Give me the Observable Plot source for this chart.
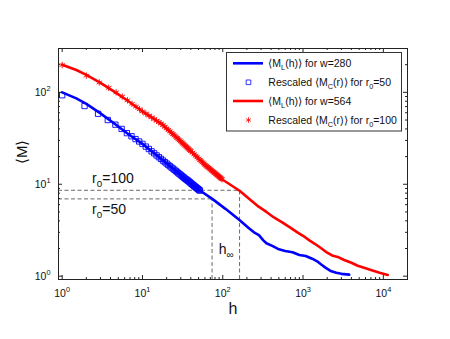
<!DOCTYPE html>
<html><head><meta charset="utf-8">
<script src="https://cdn.jsdelivr.net/npm/d3@7"></script>
<script src="https://cdn.jsdelivr.net/npm/@observablehq/plot@0.6"></script>
<style>body{margin:0;background:#fff;}</style>
</head><body><div id="chart"></div>
<script>
// ---- data ----
const blueLineH = [1,1.5,2,3,4.5,6.7,10,14,17.5,25,35,48,52,74,108,160,210,245,282,320,350,420,500,600,740,900,1080,1300,1500,1700,1900,2200,2600,3000,3760];
const blueLineM = [100,86,75,59,45.5,35,27.5,21.7,18.6,14.35,11.3,9.0,8.55,6.93,5.4,4.1,3.35,3.0,2.8,2.45,2.28,2.12,1.96,1.88,1.82,1.7,1.66,1.55,1.45,1.33,1.24,1.14,1.09,1.06,1.04];
const redLineH = [1,1.5,2,3,4.5,6.7,10,17.5,25,40,60,100,162,220,280,350,434,550,702,850,1000,1200,1400,1700,2000,2300,2700,3250,4000,4800,5500,7000,9000,11350];
const redLineM = [200,175,155,127,101,80,62,45,34,23,16.3,11.2,8.5,6.8,5.7,5.0,4.35,3.85,3.35,3.0,2.75,2.45,2.25,2.0,1.8,1.68,1.62,1.5,1.4,1.3,1.25,1.17,1.09,1.03];
const blueSqH = [1,1.9,2.8,3.7,4.6,5.5,6.4,7.3,8.2,9.1,10,11,12,13,14,15,16,17,18,19,20,21,22,23,24,25,26,27,28,29,30,31,32,33,34,35,36,37,38,39,40,41,42,43,44,45,46,47,48,49,50,51,52];
const blueSqM = [93,71,58.5,50,44.5,40,36,33.3,31,29.2,27.5,25.7,24.2,22.8,21.7,20.6,19.7,18.9,18.1,17.4,16.8,16.2,15.7,15.2,14.8,14.35,13.95,13.6,13.2,12.9,12.6,12.3,12.0,11.8,11.5,11.3,11.1,10.9,10.7,10.5,10.3,10.1,9.93,9.76,9.6,9.45,9.3,9.17,9.03,8.9,8.77,8.65,8.53];
const redStH = [1,2,2.9,3.8,4.7,5.6,6.5,7.4,8.3,9.2,10,11,12,13,14,15,16,17,18,19,20,21,22,23,24,25,26,27,28,29,30,31,32,33,34,35,36,37,38,39,40,42,44,46,48,50,52,54,56,58,60,62,64,66,68,70,72,74,76,78,80,82,84,86,88,90,92,94,96,98];
const redStM = [198,152,128,112,100,90,82,75,70,65.5,62,58.7,55.9,53.4,51.2,49.2,47.4,45.8,44.0,42.2,40.5,39.0,37.6,36.3,35.1,34,32.9,31.9,30.9,30.1,29.2,28.4,27.7,27.0,26.3,25.7,25.1,24.6,24.0,23.5,23.0,22.1,21.2,20.4,19.7,19.0,18.4,17.8,17.3,16.8,16.3,15.9,15.5,15.2,14.9,14.55,14.25,13.97,13.7,13.44,13.2,12.95,12.73,12.5,12.3,12.1,11.9,11.72,11.54,11.36];
const hInf = [73.6, 162];
const mLevel = [6.93, 8.6];
const xMajor = [1,10,100,1000,10000];
const xTickLabels = ["10^{0}","10^{1}","10^{2}","10^{3}","10^{4}"];
const xMinor = [2,3,4,5,6,7,8,9,20,30,40,50,60,70,80,90,200,300,400,500,600,700,800,900,2000,3000,4000,5000,6000,7000,8000,9000];
const yMajor = [1,10,100];
const yTickLabels = ["10^{0}","10^{1}","10^{2}"];
const yMinor = [2,3,4,5,6,7,8,9,20,30,40,50,60,70,80,90,200,300];
const legendLabels = ["⟨M_{L}(h)⟩ for w=280","Rescaled ⟨M_{C}(r)⟩ for r_{0}=50","⟨M_{L}(h)⟩ for w=564","Rescaled ⟨M_{C}(r)⟩ for r_{0}=100"];
const annotations = [
  {label: "r_{0}=100", h: 2.36, M: 10.3},
  {label: "r_{0}=50", h: 2.36, M: 4.78},
  {label: "h_{∞}", h: 89, M: 1.75}
];

// ---- build ----
const FONT = "'Liberation Sans', Arial, Helvetica, sans-serif";
const W = 450, H = 339, mL = 58, mR = 43, mT = 48, mB = 60;
const pH = H - mT - mB, pW = W - mL - mR;
const xDomain = [0.9, 2e4], yDomain = [0.92, 300];
const BLUE = "#0000ff", RED = "#ff0000", AX = "#222";
const zip = (a, b) => a.map((v, i) => ({h: v, M: b[i]}));
const levels = hInf.map((h, i) => ({h, M: mLevel[i]}));

const plot = Plot.plot({
  width: W, height: H, marginLeft: mL, marginRight: mR, marginTop: mT, marginBottom: mB,
  style: {fontFamily: FONT, fontSize: "10.5px", background: "#fff", color: "#111"},
  x: {type: "log", domain: xDomain, axis: null},
  y: {type: "log", domain: yDomain, axis: null},
  marks: [
    Plot.ruleY(levels, {y: "M", x1: () => xDomain[0], x2: "h", stroke: "#6a6a6a", strokeWidth: 1, strokeDasharray: "4,2.5"}),
    Plot.ruleX(levels, {x: "h", y1: () => yDomain[0], y2: "M", stroke: "#6a6a6a", strokeWidth: 1, strokeDasharray: "4,2.5"}),
    Plot.line(zip(blueLineH, blueLineM), {x: "h", y: "M", stroke: BLUE, strokeWidth: 2.6}),
    Plot.dot(zip(blueSqH, blueSqM), {x: "h", y: "M", symbol: "square", r: 3, stroke: BLUE, strokeWidth: 0.9, fill: "none"}),
    Plot.line(zip(redLineH, redLineM), {x: "h", y: "M", stroke: RED, strokeWidth: 2.6}),
    Plot.dot(zip(redStH, redStM), {x: "h", y: "M", symbol: "asterisk", r: 3, stroke: RED, strokeWidth: 0.9}),
    // ticks (inward, all four sides)
    Plot.ruleX(xMajor, {x: d => d, insetTop: pH - 4, stroke: AX}),
    Plot.ruleX(xMajor, {x: d => d, insetBottom: pH - 4, stroke: AX}),
    Plot.ruleX(xMinor, {x: d => d, insetTop: pH - 2, stroke: AX}),
    Plot.ruleX(xMinor, {x: d => d, insetBottom: pH - 2, stroke: AX}),
    Plot.ruleY(yMajor, {y: d => d, insetRight: pW - 4, stroke: AX}),
    Plot.ruleY(yMajor, {y: d => d, insetLeft: pW - 4, stroke: AX}),
    Plot.ruleY(yMinor, {y: d => d, insetRight: pW - 2, stroke: AX}),
    Plot.ruleY(yMinor, {y: d => d, insetLeft: pW - 2, stroke: AX}),
    Plot.frame({stroke: AX, strokeWidth: 1}),
    // tick labels
    Plot.text(xMajor, {x: d => d, text: (d, i) => xTickLabels[i], frameAnchor: "bottom", lineAnchor: "bottom", dy: 17, fontSize: 10.5, fill: "#111"}),
    Plot.text(yMajor, {y: d => d, text: (d, i) => yTickLabels[i], frameAnchor: "left", textAnchor: "end", dx: -8, fontSize: 10.5, fill: "#111"}),
    // axis titles
    Plot.text(["h"], {text: d => d, frameAnchor: "bottom", lineAnchor: "bottom", dy: 34, fontSize: 16, fill: "#111"}),
    Plot.text(["⟨M⟩"], {text: d => d, frameAnchor: "left", dx: -36, rotate: -90, fontSize: 15, fill: "#111"}),
    // annotations
    Plot.text(annotations, {x: "h", y: "M", text: "label", textAnchor: "start", lineAnchor: "bottom", fontSize: 14, fill: "#111"})
  ]
});
document.getElementById("chart").appendChild(plot);

// ---- legend ----
const svg = d3.select(plot);
const lg = svg.append("g").attr("font-family", FONT).attr("font-size", 10.5).attr("fill", "#111").attr("text-anchor", "start");
lg.append("rect").attr("x", 226.5).attr("y", 52.5).attr("width", 175).attr("height", 78.5)
  .attr("fill", "#fff").attr("stroke", "#333").attr("stroke-width", 1);
const rowY = [63.3, 82.3, 101, 120];
const kinds = ["line", "square", "line", "star"];
const cols = [BLUE, BLUE, RED, RED];
rowY.forEach((y, i) => {
  if (kinds[i] === "line") {
    lg.append("line").attr("x1", 233).attr("x2", 263).attr("y1", y).attr("y2", y)
      .attr("stroke", cols[i]).attr("stroke-width", 2.6);
  } else {
    const sym = kinds[i] === "square" ? d3.symbolSquare : (d3.symbolAsterisk || d3.symbolCross);
    lg.append("path").attr("transform", `translate(248.5,${y})`)
      .attr("d", d3.symbol(sym, Math.PI * 2.6 * 2.6)())
      .attr("fill", "none").attr("stroke", cols[i]).attr("stroke-width", 0.8);
  }
  lg.append("text").attr("x", 268.3).attr("y", y + 3.7).attr("text-anchor", "start").text(legendLabels[i]);
});

// ---- rich text: _{sub} and ^{sup} ----
function richify(el) {
  const s = el.textContent;
  if (!/[_^]\{/.test(s)) return;
  const parts = [];
  const re = /([_^])\{([^}]*)\}/g;
  let last = 0, m;
  while ((m = re.exec(s))) {
    if (m.index > last) parts.push({t: s.slice(last, m.index), mode: 0});
    parts.push({t: m[2], mode: m[1] === "_" ? 1 : -1});
    last = re.lastIndex;
  }
  if (last < s.length) parts.push({t: s.slice(last), mode: 0});
  while (el.firstChild) el.removeChild(el.firstChild);
  const fs = parseFloat(getComputedStyle(el).fontSize) || 10;
  let cur = 0;
  for (const p of parts) {
    const ts = document.createElementNS("http://www.w3.org/2000/svg", "tspan");
    const target = p.mode === 1 ? 0.3 * fs : p.mode === -1 ? -0.42 * fs : 0;
    if (target - cur !== 0) ts.setAttribute("dy", target - cur);
    cur = target;
    if (p.mode) ts.setAttribute("font-size", 0.7 * fs);
    ts.textContent = p.t;
    el.appendChild(ts);
  }
}
plot.querySelectorAll("text").forEach(richify);
</script>
</body></html>
